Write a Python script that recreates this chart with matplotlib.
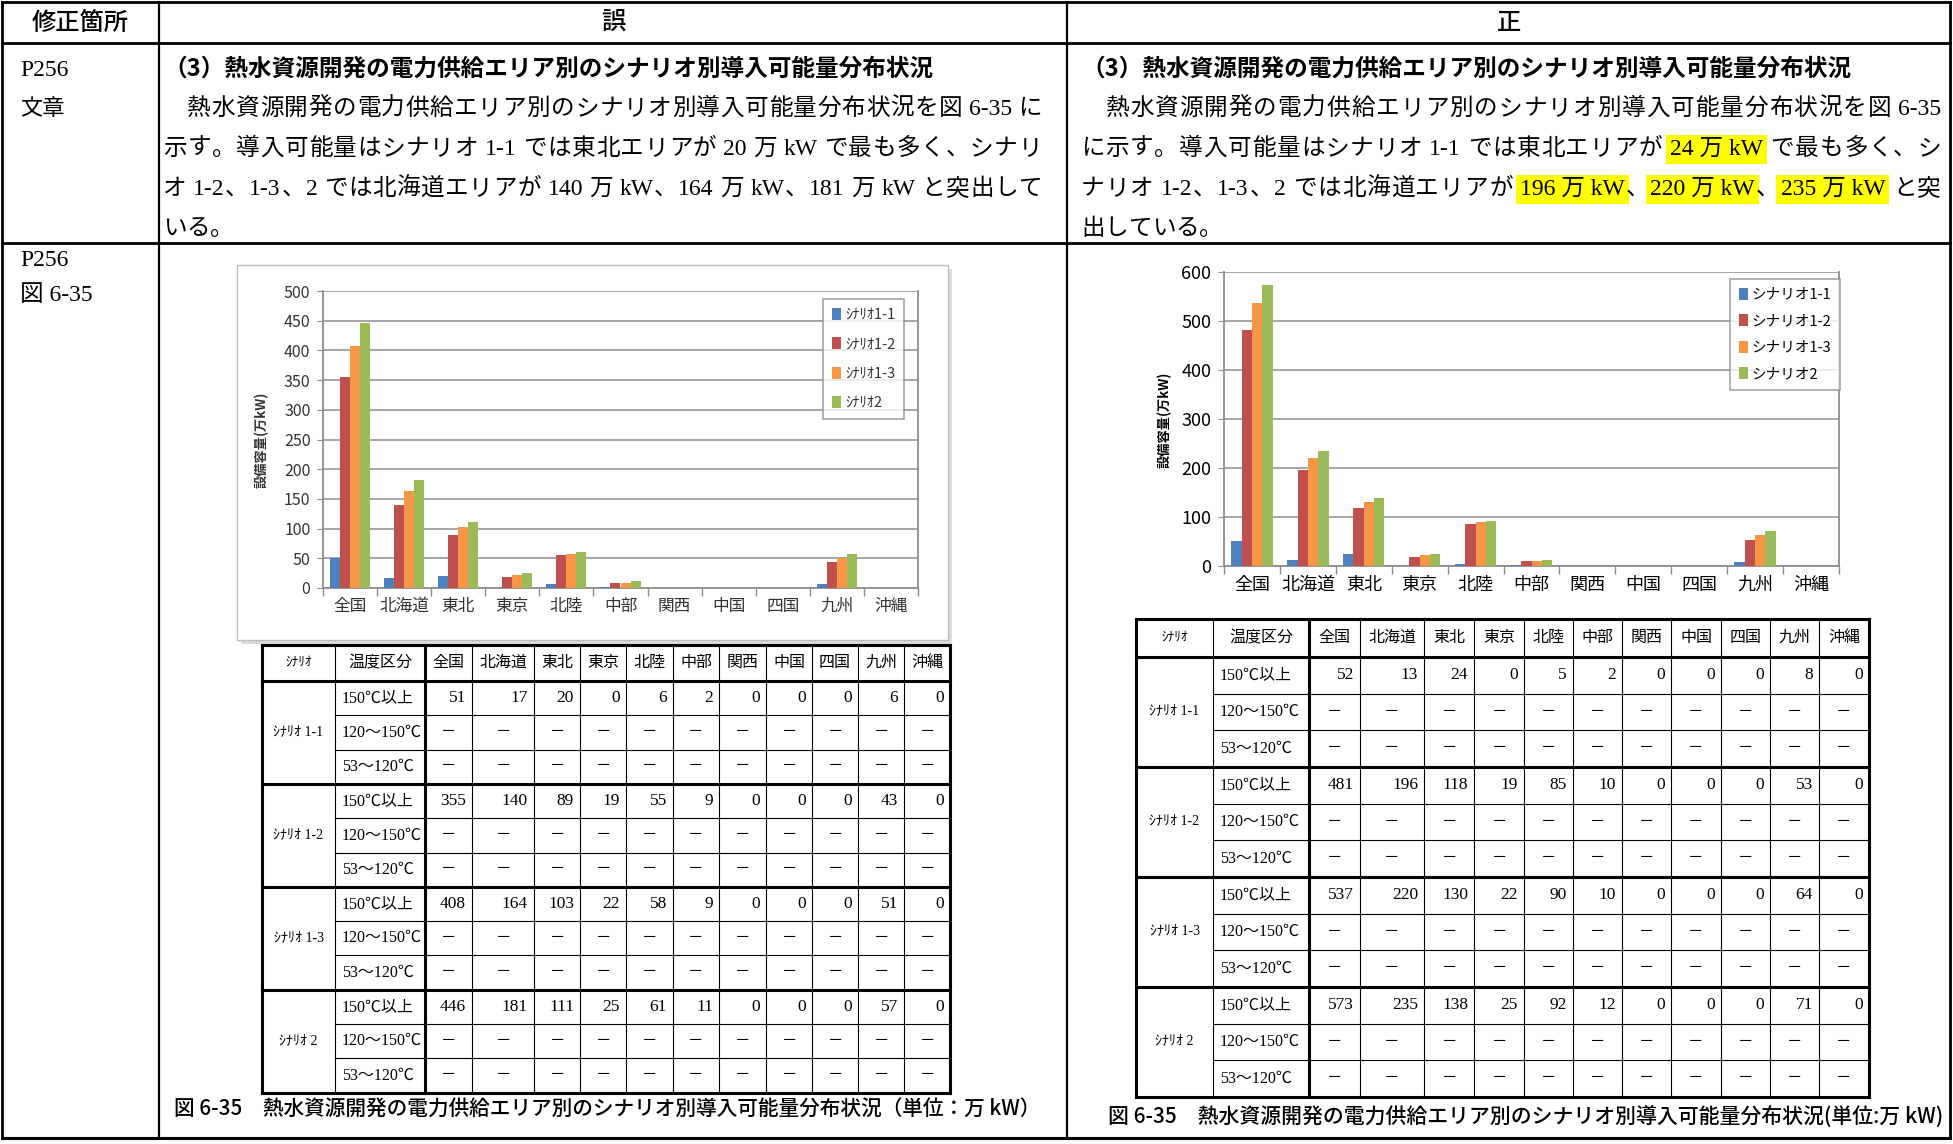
import matplotlib
matplotlib.use('Agg')
import matplotlib.pyplot as plt
from matplotlib.patches import Rectangle
import numpy as np

CJK = 'Noto Sans CJK JP'
plt.rcParams['font.family'] = [CJK, 'DejaVu Sans']

# ---------------- data ----------------
areas = ['全国', '北海道', '東北', '東京', '北陸', '中部', '関西', '中国', '四国', '九州', '沖縄']
temp_classes = ['150℃以上', '120～150℃', '53～120℃']
legend_wrong = ['ｼﾅﾘｵ1-1', 'ｼﾅﾘｵ1-2', 'ｼﾅﾘｵ1-3', 'ｼﾅﾘｵ2']
legend_right = ['シナリオ1-1', 'シナリオ1-2', 'シナリオ1-3', 'シナリオ2']
table_scen = ['ｼﾅﾘｵ 1-1', 'ｼﾅﾘｵ 1-2', 'ｼﾅﾘｵ 1-3', 'ｼﾅﾘｵ 2']
table_head = ['ｼﾅﾘｵ', '温度区分'] + areas

wrong_s11 = [51, 17, 20, 0, 6, 2, 0, 0, 0, 6, 0]
wrong_s12 = [355, 140, 89, 19, 55, 9, 0, 0, 0, 43, 0]
wrong_s13 = [408, 164, 103, 22, 58, 9, 0, 0, 0, 51, 0]
wrong_s2 = [446, 181, 111, 25, 61, 11, 0, 0, 0, 57, 0]

right_s11 = [52, 13, 24, 0, 5, 2, 0, 0, 0, 8, 0]
right_s12 = [481, 196, 118, 19, 85, 10, 0, 0, 0, 53, 0]
right_s13 = [537, 220, 130, 22, 90, 10, 0, 0, 0, 64, 0]
right_s2 = [573, 235, 138, 25, 92, 12, 0, 0, 0, 71, 0]

bar_colors = ['#4F81BD', '#C0504D', '#F79646', '#9BBB59']

heading = '（3）熱水資源開発の電力供給エリア別のシナリオ別導入可能量分布状況'
wrong_lines = [
    [('　熱水資源開発の電力供給エリア別のシナリオ別導入可能量分布状況を図 6-35 に', False)],
    [('示す。導入可能量はシナリオ 1-1 では東北エリアが 20 万 kW で最も多く、シナリ', False)],
    [('オ 1-2、1-3、2 では北海道エリアが 140 万 kW、164 万 kW、181 万 kW と突出して', False)],
    [('いる。', False)],
]
right_lines = [
    [('　熱水資源開発の電力供給エリア別のシナリオ別導入可能量分布状況を図 6-35', False)],
    [('に示す。導入可能量はシナリオ 1-1 では東北エリアが ', False), ('24 万 kW', True),
     (' で最も多く、シ', False)],
    [('ナリオ 1-2、1-3、2 では北海道エリアが ', False), ('196 万 kW', True), ('、', False),
     ('220 万 kW', True), ('、', False), ('235 万 kW', True), (' と突', False)],
    [('出している。', False)],
]
caption_wrong = '図 6-35　熱水資源開発の電力供給エリア別のシナリオ別導入可能量分布状況（単位：万 kW）'
caption_right = '図 6-35　熱水資源開発の電力供給エリア別のシナリオ別導入可能量分布状況(単位:万 kW)'

# ---------------- canvas ----------------
W, H, DPI = 1953, 1144, 100
fig = plt.figure(figsize=(W / DPI, H / DPI), dpi=DPI)
fig.patch.set_facecolor('white')
bg = fig.add_axes([0, 0, 1, 1], zorder=0)
bg.set_xlim(0, W)
bg.set_ylim(H, 0)
bg.axis('off')
renderer = fig.canvas.get_renderer()

SERIF = ['Liberation Serif', CJK]
GOTH = [CJK, 'DejaVu Sans']


def hline(x0, x1, y, lw):
    bg.plot([x0, x1], [y, y], color='black', lw=lw, solid_capstyle='projecting', zorder=1)


def vline(x, y0, y1, lw):
    bg.plot([x, x], [y0, y1], color='black', lw=lw, solid_capstyle='projecting', zorder=1)


def width_of(t):
    return t.get_window_extent(renderer=renderer).width


def split_tokens(segments):
    toks = []
    for s, hl in segments:
        if hl:
            toks.append((s, True))
            continue
        buf = ''
        for ch in s:
            if ord(ch) < 128:
                buf += ch
            else:
                if buf:
                    toks.append((buf, False))
                    buf = ''
                toks.append((ch, False))
        if buf:
            toks.append((buf, False))
    return toks


def draw_line(x0, x1, yb, segments, size, justify=True):
    toks = split_tokens(segments)
    em = size * DPI / 72.0
    sp = 0.25 * em
    items = []
    for s, hl in toks:
        lead = len(s) - len(s.lstrip(' '))
        trail = len(s) - len(s.rstrip(' '))
        core = s.strip(' ')
        if core == '':
            items.append((None, lead * sp, 0))
            continue
        kw = {}
        if hl:
            kw['bbox'] = dict(facecolor='#FFFF00', edgecolor='none', pad=3.0)
        t = bg.text(0, yb, core, fontsize=size, family=SERIF, ha='left', va='baseline', zorder=3, **kw)
        items.append((t, lead * sp, trail * sp))
    widths = []
    for t, l, r in items:
        w = width_of(t) if t is not None else 0
        widths.append(l + w + r)
    nat = sum(widths)
    gap = (x1 - x0 - nat) / (len(items) - 1) if (justify and len(items) > 1) else 0
    x = x0
    for (t, l, r), w in zip(items, widths):
        if t is not None:
            t.set_x(x + l)
        x += w + gap


def fit_text(x0, x1, y, s, family, size0, weight='normal'):
    t = bg.text(x0, y, s, fontsize=size0, family=family, weight=weight, ha='left', va='center', zorder=3)
    w = width_of(t)
    t.set_fontsize(size0 * (x1 - x0) / w)
    return t


# ---------------- page frame ----------------
XL, XD1, XD2, XR = 2, 159, 1067, 1950
YT, YH, YR2, YB = 2, 43, 243, 1138
hline(XL, XR, YT, 2.0)
hline(XL, XR, YB, 2.2)
vline(XL, YT, YB, 2.0)
vline(XR, YT, YB, 2.0)
hline(XL, XR, YH, 2.0)
hline(XL, XR, YR2, 2.0)
vline(XD1, YT, YB, 1.6)
vline(XD2, YT, YB, 1.6)

bg.text((XL + XD1) / 2, 23, '修正箇所', fontsize=17.5, family=GOTH, weight='medium', ha='center', va='center')
bg.text((XD1 + XD2) / 2, 23, '誤', fontsize=17.5, family=GOTH, weight='medium', ha='center', va='center')
bg.text((XD2 + XR) / 2, 23, '正', fontsize=17.5, family=GOTH, weight='medium', ha='center', va='center')

bg.text(20, 76, 'P256', fontsize=17, family=SERIF, ha='left', va='baseline')
bg.text(20, 115, '文章', fontsize=16, family=SERIF, ha='left', va='baseline')
bg.text(20, 266, 'P256', fontsize=17, family=SERIF, ha='left', va='baseline')
bg.text(20, 301, '図 6-35', fontsize=17, family=SERIF, ha='left', va='baseline')

# ---------------- text rows ----------------
row_base = [76, 115, 155, 195, 235]
for (x0, x1, lines) in [(163, 1042, wrong_lines), (1081, 1941, right_lines)]:
    bg.text(x0, row_base[0], heading, fontsize=17, family=GOTH, weight='bold', ha='left', va='baseline')
    for i, segs in enumerate(lines):
        draw_line(x0, x1, row_base[i + 1], segs, 17, justify=(i < 3))


# ---------------- charts ----------------
def make_chart(box, series, names, ymax, ystep, ylabel_xy, leg_xy, leg_fs, leg_sp,
               fs_tick, fs_x, txtcolor):
    l, r, t, b = box
    ax = fig.add_axes([l / W, 1 - b / H, (r - l) / W, (b - t) / H], zorder=2)
    ax.patch.set_alpha(0)
    n = len(areas)
    x = np.arange(n)
    w = 0.185
    for i, (vals, c, nm) in enumerate(zip(series, bar_colors, names)):
        ax.bar(x + (i - 1.5) * w, vals, width=w, color=c, label=nm, zorder=3)
    ax.set_xlim(-0.5, n - 0.5)
    ax.set_ylim(0, ymax)
    ax.set_yticks(np.arange(0, ymax + 1, ystep))
    ax.yaxis.grid(True, color='#8E8E8E', lw=1.1, zorder=0)
    ax.set_axisbelow(True)
    ax.set_xticks(np.arange(-0.5, n, 1.0))
    ax.set_xticklabels([])
    ax.set_xticks(x, minor=True)
    ax.set_xticklabels(areas, minor=True, fontsize=fs_x, color=txtcolor)
    ax.tick_params(axis='x', which='major', length=6, color='#8E8E8E', width=1)
    ax.tick_params(axis='x', which='minor', length=0, pad=7)
    ax.tick_params(axis='y', length=4, color='#8E8E8E', labelsize=fs_tick, labelcolor=txtcolor, pad=5)
    for s in ['left', 'bottom', 'right']:
        ax.spines[s].set_color('#8E8E8E')
        ax.spines[s].set_linewidth(1.3)
    ax.spines['top'].set_visible(False)
    fig.text(ylabel_xy[0] / W, 1 - ylabel_xy[1] / H, '設備容量(万kW)', rotation=90, ha='center', va='center',
             fontsize=9.5, weight='bold', color=txtcolor)
    leg = ax.legend(loc='upper left', bbox_to_anchor=(leg_xy[0] / W, 1 - leg_xy[1] / H),
                    bbox_transform=fig.transFigure, frameon=True, fancybox=False, borderaxespad=0,
                    handlelength=0.6, handleheight=0.9, handletextpad=0.3, labelspacing=leg_sp,
                    borderpad=0.6, fontsize=leg_fs)
    leg.get_frame().set_edgecolor('#8E8E8E')
    leg.get_frame().set_linewidth(1.2)
    for tx in leg.get_texts():
        tx.set_color(txtcolor)
    return ax


# left chart frame with shadow
bg.add_patch(Rectangle((241, 269), 948 - 237, 640 - 265, facecolor='#DCDCDC', edgecolor='none', zorder=0.5))
bg.add_patch(Rectangle((237, 265), 948 - 237, 640 - 265, facecolor='white', edgecolor='#BDBDBD', lw=1.0,
                       zorder=0.6))

make_chart((323, 918, 291, 588), [wrong_s11, wrong_s12, wrong_s13, wrong_s2], legend_wrong, 500, 50,
           (262, 440), (823, 299), 10.5, 1.05, 11.5, 12, '#333333')
make_chart((1224, 1839, 272, 566), [right_s11, right_s12, right_s13, right_s2], legend_right, 600, 100,
           (1165, 420), (1730, 279), 10.5, 0.85, 13, 13, 'black')


# ---------------- tables ----------------
def draw_table(xe, top, hh, rh, rows):
    n = 12
    bottom = top + hh + n * rh
    thick, thin = 2.2, 0.8
    hline(xe[0], xe[-1], top, thick)
    hline(xe[0], xe[-1], top + hh, thick)
    hline(xe[0], xe[-1], bottom, thick)
    for k in range(1, n):
        y = top + hh + k * rh
        if k % 3 == 0:
            hline(xe[0], xe[-1], y, thick)
        else:
            hline(xe[1], xe[-1], y, thin)
    for j, x in enumerate(xe):
        lw = thick if j in (0, 2, len(xe) - 1) else thin
        vline(x, top, bottom, lw)
    # header
    for j, s in enumerate(table_head):
        cx = (xe[j] + xe[j + 1]) / 2
        bg.text(cx, top + hh / 2, s, fontsize=11.5 if j > 0 else 9.5, family=SERIF, ha='center', va='center')
    for g, vals in enumerate(rows):
        gy0 = top + hh + 3 * g * rh
        bg.text((xe[0] + xe[1]) / 2, gy0 + 1.5 * rh, table_scen[g], fontsize=10, family=SERIF,
                ha='center', va='center')
        for k in range(3):
            cy = gy0 + (k + 0.5) * rh
            bg.text(xe[1] + 7, cy, temp_classes[k], fontsize=11.5, family=SERIF, ha='left', va='center')
            for c in range(len(areas)):
                if k == 0:
                    bg.text(xe[c + 3] - 6, cy, str(vals[c]), fontsize=12.5, family=SERIF,
                            ha='right', va='center')
                else:
                    bg.text((xe[c + 2] + xe[c + 3]) / 2, cy, '－', fontsize=11, family=SERIF,
                            ha='center', va='center')


xe_left = [262, 335, 425, 472, 534, 580, 626, 673, 719, 766, 812, 858, 904, 950]
xe_right = [1136, 1213, 1309, 1360, 1424, 1474, 1524, 1573, 1622, 1671, 1721, 1770, 1819, 1869]
draw_table(xe_left, 645, 36, 34.3, [wrong_s11, wrong_s12, wrong_s13, wrong_s2])
draw_table(xe_right, 619, 38, 36.67, [right_s11, right_s12, right_s13, right_s2])

fit_text(174, 1044, 1110, caption_wrong, GOTH, 15, weight='medium')
fit_text(1108, 1944, 1117, caption_right, GOTH, 15, weight='medium')

fig.savefig('out.png', dpi=DPI, facecolor='white')
